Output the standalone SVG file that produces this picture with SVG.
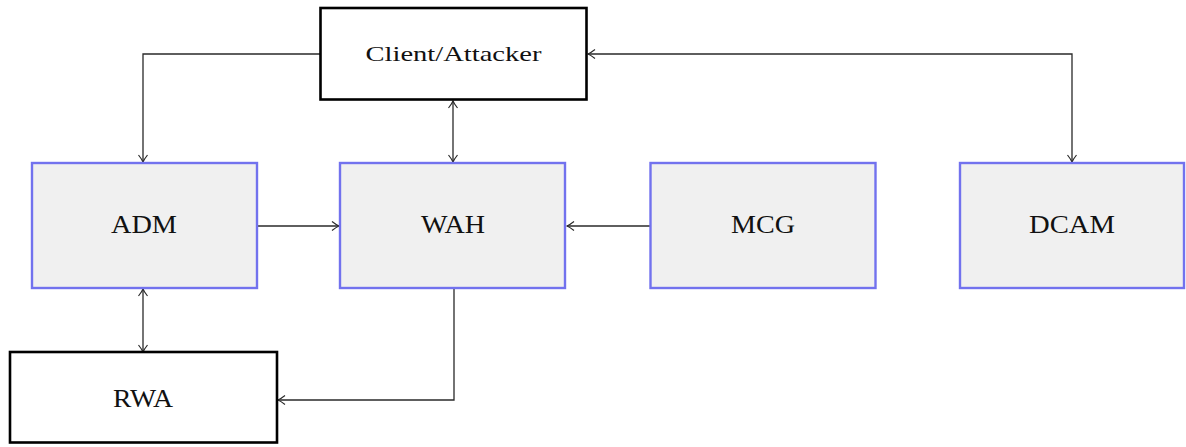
<svg xmlns="http://www.w3.org/2000/svg" width="1186" height="447" viewBox="0 0 1186 447">
  <style>
    .blk { fill: #ffffff; stroke: #000000; stroke-width: 2.6; }
    .mod { fill: #f0f0f0; stroke: #7272ee; stroke-width: 2.4; }
    .lbl { font-family: "Liberation Serif", "DejaVu Serif", serif; fill: #111111; text-anchor: middle; }
    .big { font-size: 25px; }
    .top { font-size: 21px; }
    .wire { fill: none; stroke: #2a2a2a; stroke-width: 1.3; }
  </style>
  <defs>
    <marker id="tip" markerUnits="userSpaceOnUse" markerWidth="12" markerHeight="12" viewBox="-9 -6 10 12" refX="0" refY="0" orient="auto-start-reverse">
      <path d="M-7,-4.5 Q-2.5,-1 0,0 Q-2.5,1 -7,4.5" fill="none" stroke="#2a2a2a" stroke-width="1.2"/>
    </marker>
  </defs>
  <rect width="1186" height="447" fill="#ffffff"/>

  <g id="connectors">
    <path class="wire" d="M320,54 H143 V162" marker-end="url(#tip)"/>
    <path class="wire" d="M453,101 V162" marker-start="url(#tip)" marker-end="url(#tip)"/>
    <path class="wire" d="M588,54 H1072 V162" marker-start="url(#tip)" marker-end="url(#tip)"/>
    <path class="wire" d="M257,226 H339" marker-end="url(#tip)"/>
    <path class="wire" d="M650,226 H567" marker-end="url(#tip)"/>
    <path class="wire" d="M143,289 V352" marker-start="url(#tip)" marker-end="url(#tip)"/>
    <path class="wire" d="M454,289 V400 H278" marker-end="url(#tip)"/>
  </g>

  <g id="client">
    <rect class="blk" x="320.5" y="8" width="266" height="91.5"/>
    <text class="lbl top" x="453.5" y="61" textLength="176" lengthAdjust="spacingAndGlyphs">Client/Attacker</text>
  </g>

  <g id="adm">
    <rect class="mod" x="32" y="163" width="225" height="125"/>
    <text class="lbl big" x="144" y="233" textLength="66" lengthAdjust="spacingAndGlyphs">ADM</text>
  </g>

  <g id="wah">
    <rect class="mod" x="340" y="163" width="225" height="125"/>
    <text class="lbl big" x="453" y="233" textLength="64" lengthAdjust="spacingAndGlyphs">WAH</text>
  </g>

  <g id="mcg">
    <rect class="mod" x="650.5" y="163" width="225" height="125"/>
    <text class="lbl big" x="763" y="233" textLength="64" lengthAdjust="spacingAndGlyphs">MCG</text>
  </g>

  <g id="dcam">
    <rect class="mod" x="960" y="163" width="224" height="125"/>
    <text class="lbl big" x="1072" y="233" textLength="86" lengthAdjust="spacingAndGlyphs">DCAM</text>
  </g>

  <g id="rwa">
    <rect class="blk" x="10" y="352" width="267" height="90.5"/>
    <text class="lbl big" x="143" y="407" textLength="60" lengthAdjust="spacingAndGlyphs">RWA</text>
  </g>
</svg>
